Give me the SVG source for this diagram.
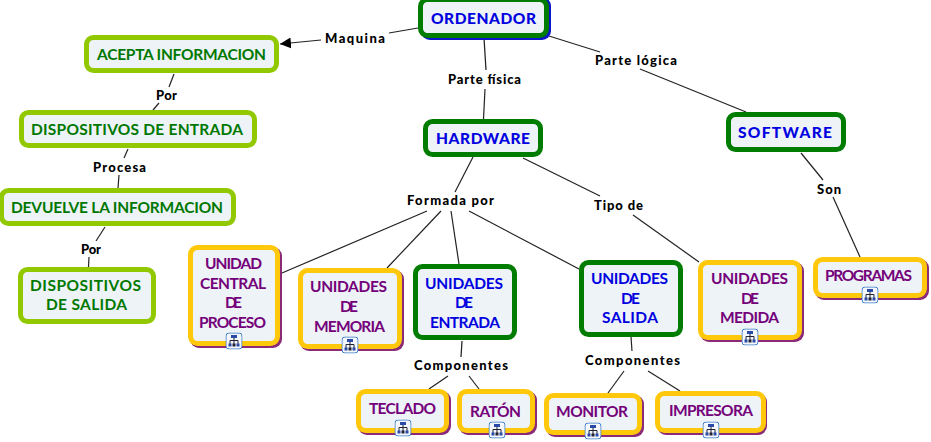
<svg xmlns="http://www.w3.org/2000/svg" width="931" height="442" viewBox="0 0 931 442">
<style>
.box{fill:#edf3f7;stroke-width:5}
.lg{stroke:#92c800}.dg{stroke:#007c00}.yl{stroke:#ffc80a}
.sp{fill:#8a2a78}.sb{fill:#0a14c8}
text{font-family:"Lato","Open Sans","Liberation Sans",sans-serif;font-weight:700}
.tg{font-size:15.500px;fill:#007800}
.tb{font-size:15.500px;fill:#0000e0}
.tk{font-size:15.500px;font-weight:900;fill:#0000e0}
.tp{font-size:15.500px;fill:#74007a}
.lab{font-size:13px;font-weight:900;fill:#000}
#connectors line{stroke:#222;stroke-width:1.2}
</style>
<defs>
<marker id="arrow" markerUnits="userSpaceOnUse" markerWidth="12" markerHeight="12" refX="11" refY="5.500" orient="auto" viewBox="0 0 12 11"><path d="M0 0L11 5.500L0 11Z" fill="#000"/></marker>
<symbol id="icon" viewBox="0 0 17 17">
<rect x=".5" y=".5" width="16" height="16" rx="3" fill="#f4f8fd" stroke="#3c7cc8"/>
<path d="M8.500 5V8M4.500 12V8H12.500V12M8.500 8V12" fill="none" stroke="#223" stroke-width="1"/>
<rect x="5.500" y="2.500" width="6" height="3" fill="#2a4aa8"/>
<rect x="3" y="11" width="3" height="3" fill="#2a4aa8"/>
<rect x="7" y="11" width="3" height="3" fill="#223"/>
<rect x="11" y="11" width="3" height="3" fill="#2a4aa8"/>
</symbol>
</defs>
<rect width="931" height="442" fill="#fff"/>
<g id="connectors">
<line x1="418" y1="28" x2="389" y2="33"/>
<line x1="321" y1="40" x2="280" y2="44" marker-end="url(#arrow)"/>
<line x1="484" y1="38" x2="486" y2="70"/>
<line x1="485" y1="89" x2="483.500" y2="119"/>
<line x1="549" y1="36" x2="600" y2="52"/>
<line x1="640" y1="69" x2="746" y2="112"/>
<line x1="174" y1="74" x2="169" y2="87"/>
<line x1="159" y1="103" x2="153" y2="110"/>
<line x1="128" y1="149" x2="124" y2="158"/>
<line x1="119" y1="175" x2="118" y2="188"/>
<line x1="105" y1="227" x2="96" y2="241"/>
<line x1="89" y1="257" x2="88.500" y2="267"/>
<line x1="473" y1="157" x2="455" y2="192"/>
<line x1="523" y1="158" x2="600" y2="196"/>
<line x1="282" y1="273" x2="427" y2="211"/>
<line x1="387" y1="268" x2="441" y2="211"/>
<line x1="459" y1="264" x2="451" y2="211"/>
<line x1="579" y1="269" x2="469" y2="211"/>
<line x1="633" y1="215" x2="699" y2="262"/>
<line x1="801" y1="153" x2="823" y2="180"/>
<line x1="833" y1="197" x2="860" y2="257"/>
<line x1="462" y1="341" x2="461" y2="357"/>
<line x1="448" y1="376" x2="429" y2="389"/>
<line x1="469" y1="376" x2="479" y2="389"/>
<line x1="631" y1="337" x2="632" y2="351"/>
<line x1="624" y1="371" x2="608" y2="393"/>
<line x1="648" y1="371" x2="680" y2="391"/>
</g>
<g id="labels">
<text class="lab" x="325" y="43" textLength="60">Maquina</text>
<text class="lab" x="448" y="84" textLength="73">Parte física</text>
<text class="lab" x="595" y="65" textLength="82">Parte lógica</text>
<text class="lab" x="156" y="100" textLength="21">Por</text>
<text class="lab" x="93" y="172" textLength="53">Procesa</text>
<text class="lab" x="81" y="254" textLength="20">Por</text>
<text class="lab" x="407" y="205" textLength="87">Formada por</text>
<text class="lab" x="594" y="210" textLength="49">Tipo de</text>
<text class="lab" x="817" y="194" textLength="24">Son</text>
<text class="lab" x="414" y="370" textLength="94">Componentes</text>
<text class="lab" x="585" y="365" textLength="95">Componentes</text>
</g>
<g id="ordenador">
<rect class="sb" x="421" y="-3" width="130" height="43" rx="9"/>
<rect class="box dg" x="420.500" y="-0.500" width="126" height="36" rx="7"/>
<text class="tk" x="431" y="24" textLength="105">ORDENADOR</text>
</g>
<g id="acepta-informacion">
<rect class="box lg" x="86.500" y="37.500" width="190" height="33" rx="7"/>
<text class="tg" x="97" y="60" textLength="169">ACEPTA INFORMACION</text>
</g>
<g id="dispositivos-de-entrada">
<rect class="box lg" x="21.500" y="112.500" width="233" height="33" rx="7"/>
<text class="tg" x="31" y="135" textLength="212">DISPOSITIVOS DE ENTRADA</text>
</g>
<g id="devuelve-la-informacion">
<rect class="box lg" x="1.500" y="190.500" width="232" height="33" rx="7"/>
<text class="tg" x="11" y="213" textLength="212">DEVUELVE LA INFORMACION</text>
</g>
<g id="dispositivos-de-salida">
<rect class="box lg" x="20.500" y="269.500" width="133" height="52" rx="7"/>
<text class="tg" x="30" y="291" textLength="111">DISPOSITIVOS</text>
<text class="tg" x="46" y="310" textLength="81">DE SALIDA</text>
</g>
<g id="hardware">
<rect class="box dg" x="425.500" y="121.500" width="115" height="33" rx="7"/>
<text class="tk" x="436" y="144" textLength="94">HARDWARE</text>
</g>
<g id="software">
<rect class="box dg" x="728.500" y="114.500" width="115" height="35" rx="7"/>
<text class="tk" x="738" y="138" textLength="94">SOFTWARE</text>
</g>
<g id="unidad-central-de-proceso">
<rect class="sp" x="190" y="247" width="92" height="101" rx="9"/>
<rect class="box yl" x="190.500" y="247.500" width="87" height="96" rx="7"/>
<text class="tp" x="205" y="269" textLength="57">UNIDAD</text>
<text class="tp" x="200" y="289" textLength="66">CENTRAL</text>
<text class="tp" x="225" y="308" textLength="17">DE</text>
<text class="tp" x="199" y="328" textLength="67">PROCESO</text>
<use href="#icon" x="225.500" y="332.500" width="17" height="17"/>
</g>
<g id="unidades-de-memoria">
<rect class="sp" x="300" y="270" width="104" height="81" rx="9"/>
<rect class="box yl" x="300.500" y="270.500" width="99" height="76" rx="7"/>
<text class="tp" x="310" y="292" textLength="77">UNIDADES</text>
<text class="tp" x="340" y="312" textLength="18">DE</text>
<text class="tp" x="314" y="332" textLength="71">MEMORIA</text>
<use href="#icon" x="341.500" y="336.500" width="17" height="17"/>
</g>
<g id="unidades-de-entrada">
<rect class="box dg" x="415.500" y="266.500" width="99" height="71" rx="7"/>
<text class="tb" x="425" y="289" textLength="78">UNIDADES</text>
<text class="tb" x="455" y="308" textLength="18">DE</text>
<text class="tb" x="430" y="328" textLength="70">ENTRADA</text>
</g>
<g id="unidades-de-salida">
<rect class="box dg" x="581.500" y="262.500" width="99" height="72" rx="7"/>
<text class="tb" x="591" y="284" textLength="77">UNIDADES</text>
<text class="tb" x="621" y="304" textLength="19">DE</text>
<text class="tb" x="602" y="323" textLength="56">SALIDA</text>
</g>
<g id="unidades-de-medida">
<rect class="sp" x="700" y="262" width="104" height="80" rx="9"/>
<rect class="box yl" x="700.500" y="262.500" width="99" height="75" rx="7"/>
<text class="tp" x="711" y="284" textLength="77">UNIDADES</text>
<text class="tp" x="741" y="304" textLength="18">DE</text>
<text class="tp" x="720" y="323" textLength="59">MEDIDA</text>
<use href="#icon" x="741.500" y="328.500" width="17" height="17"/>
</g>
<g id="programas">
<rect class="sp" x="815" y="259" width="114" height="41" rx="9"/>
<rect class="box yl" x="815.500" y="259.500" width="109" height="36" rx="7"/>
<text class="tp" x="825" y="281" textLength="87">PROGRAMAS</text>
<use href="#icon" x="861.500" y="286.500" width="17" height="17"/>
</g>
<g id="teclado">
<rect class="sp" x="358" y="391" width="93" height="44" rx="9"/>
<rect class="box yl" x="358.500" y="391.500" width="88" height="39" rx="7"/>
<text class="tp" x="369" y="414" textLength="67">TECLADO</text>
<use href="#icon" x="394.500" y="419.500" width="17" height="17"/>
</g>
<g id="raton">
<rect class="sp" x="459" y="391" width="78" height="44" rx="9"/>
<rect class="box yl" x="459.500" y="391.500" width="73" height="39" rx="7"/>
<text class="tp" x="470" y="417" textLength="51">RATÓN</text>
<use href="#icon" x="488.500" y="421.500" width="17" height="17"/>
</g>
<g id="monitor">
<rect class="sp" x="546" y="395" width="98" height="42" rx="9"/>
<rect class="box yl" x="546.500" y="395.500" width="93" height="37" rx="7"/>
<text class="tp" x="556" y="417" textLength="72">MONITOR</text>
<use href="#icon" x="584.500" y="422.500" width="17" height="17"/>
</g>
<g id="impresora">
<rect class="sp" x="657" y="393" width="110" height="42" rx="9"/>
<rect class="box yl" x="657.500" y="393.500" width="106" height="37" rx="7"/>
<text class="tp" x="669" y="416" textLength="84">IMPRESORA</text>
<use href="#icon" x="702.500" y="421.500" width="17" height="17"/>
</g>
</svg>
